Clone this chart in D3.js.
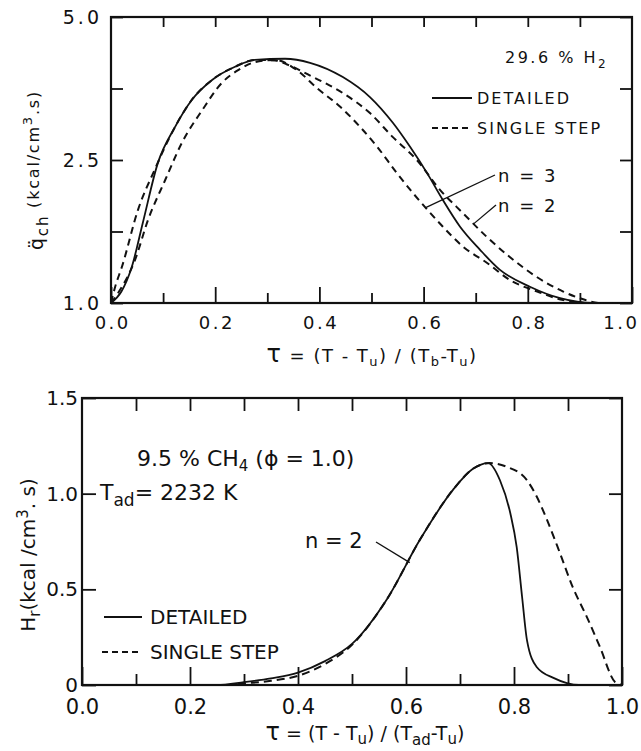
<!doctype html>
<html>
<head>
<meta charset="utf-8">
<style>
  body { margin: 0; background: #fff; }
  svg { display: block; }
  text { fill: #111; font-family: "DejaVu Sans", sans-serif; }
  .axis path { display: none; }
  .axis line { stroke: #111; stroke-width: 1.8; }
</style>
</head>
<body>
<div id="chart"></div>
<script src="https://cdnjs.cloudflare.com/ajax/libs/d3/7.8.5/d3.min.js"></script>
<script>
  // ---- top panel: 29.6 % H2, heat release vs tau ----
  var topDetailedTau = [0, 0.02, 0.040, 0.061, 0.090, 0.123, 0.155, 0.194, 0.238, 0.276, 0.334, 0.382, 0.445, 0.497, 0.541, 0.574, 0.607, 0.637, 0.670, 0.708, 0.746, 0.804, 0.862, 0.925, 1.0]
  var topDetailedQ   = [1.0, 1.12, 1.38, 1.84, 2.47, 3.08, 3.55, 3.90, 4.13, 4.25, 4.27, 4.20, 3.95, 3.60, 3.15, 2.73, 2.36, 2.08, 1.80, 1.56, 1.35, 1.17, 1.05, 1.0, 1.0]

  var topN2Tau = [0, 0.008, 0.021, 0.052, 0.084, 0.123, 0.155, 0.194, 0.238, 0.276, 0.315, 0.338, 0.388, 0.445, 0.497, 0.541, 0.587, 0.631, 0.676, 0.722, 0.766, 0.818, 0.868, 0.900, 0.939, 1.0]
  var topN2Q   = [1.0, 1.17, 1.38, 1.98, 2.40, 3.08, 3.55, 3.90, 4.13, 4.25, 4.24, 4.17, 3.95, 3.67, 3.32, 2.90, 2.50, 2.19, 1.94, 1.69, 1.48, 1.27, 1.12, 1.05, 1.0, 1.0]

  var topN3Tau = [0, 0.013, 0.046, 0.071, 0.104, 0.136, 0.175, 0.213, 0.244, 0.276, 0.315, 0.357, 0.395, 0.440, 0.478, 0.511, 0.549, 0.580, 0.607, 0.637, 0.676, 0.722, 0.766, 0.818, 0.868, 0.914, 1.0]
  var topN3Q   = [1.0, 1.10, 1.45, 1.87, 2.29, 2.80, 3.37, 3.85, 4.07, 4.21, 4.25, 4.07, 3.76, 3.43, 3.08, 2.73, 2.36, 2.15, 1.98, 1.80, 1.59, 1.42, 1.24, 1.12, 1.03, 1.0, 1.0]

  var topYTicks = [1.0, 1.75, 2.5, 3.75, 5.0]
  var topYLabels = ['1.0', '', '2.5', '', '5.0']

  // ---- bottom panel: 9.5 % CH4 ----
  var botDetailedTau = [0, 0.25, 0.30, 0.35, 0.40, 0.45, 0.50, 0.565, 0.626, 0.687, 0.724, 0.752, 0.774, 0.793, 0.805, 0.815, 0.824, 0.842, 0.873, 0.898, 0.92, 1.0]
  var botDetailedH   = [0, 0, 0.015, 0.035, 0.065, 0.125, 0.215, 0.45, 0.76, 1.02, 1.13, 1.16, 1.07, 0.90, 0.72, 0.46, 0.235, 0.094, 0.037, 0.01, 0, 0]

  var botSingleTau = [0, 0.27, 0.30, 0.35, 0.40, 0.45, 0.50, 0.565, 0.626, 0.687, 0.724, 0.755, 0.787, 0.824, 0.842, 0.861, 0.885, 0.909, 0.935, 0.959, 0.987, 1.0]
  var botSingleH   = [0, 0, 0.008, 0.022, 0.048, 0.11, 0.21, 0.45, 0.76, 1.02, 1.13, 1.16, 1.14, 1.07, 0.985, 0.864, 0.69, 0.51, 0.355, 0.20, 0.016, 0]

  var tauMajor = [0, 0.2, 0.4, 0.6, 0.8, 1.0]
  var tauMinor = [0.1, 0.3, 0.5, 0.7, 0.9]
  var tauAll = d3.range(1, 10).map(d => d / 10)
  var botYTicks = [0, 0.5, 1.0, 1.5]

  var svg = d3.select('#chart').append('svg')
    .attr('width', 641)
    .attr('height', 751)

  function zip(xs, ys) { return xs.map((d, i) => [d, ys[i]]) }

  // ================= top panel =================
  var x1 = d3.scaleLinear().domain([0, 1]).range([111, 632])
  // axis as printed: 1.0 / 2.5 / 5.0 equally spaced
  var y1 = d3.scaleLinear().domain([1.0, 2.5, 5.0]).range([303, 160, 17])

  var topG = svg.append('g')

  topG.append('g').attr('class', 'axis').attr('transform', 'translate(0,303)')
    .call(d3.axisBottom(x1).tickValues(tauMajor).tickSize(-16).tickPadding(13)
      .tickFormat(d3.format('.1f')))
    .selectAll('text').attr('font-size', 18).attr('letter-spacing', 2.5)
    .attr('text-anchor', d => d === 1 ? 'end' : 'middle')
    .attr('dx', d => d === 1 ? 7 : 1.2)

  topG.append('g').attr('class', 'axis').attr('transform', 'translate(0,303)')
    .call(d3.axisBottom(x1).tickValues(tauMinor).tickSize(-10).tickFormat(''))

  topG.append('g').attr('class', 'axis').attr('transform', 'translate(0,17)')
    .call(d3.axisTop(x1).tickValues(tauAll).tickSize(-10).tickFormat(''))

  topG.append('g').attr('class', 'axis').attr('transform', 'translate(111,0)')
    .call(d3.axisLeft(y1).tickValues(topYTicks).tickSize(-12).tickPadding(9)
      .tickFormat((d, i) => topYLabels[i]))
    .selectAll('text').attr('font-size', 19).attr('letter-spacing', 3)

  topG.append('g').attr('class', 'axis').attr('transform', 'translate(632,0)')
    .call(d3.axisRight(y1).tickValues(topYTicks).tickSize(-12).tickFormat(''))

  topG.append('rect')
    .attr('x', 111).attr('y', 17).attr('width', 521).attr('height', 286)
    .attr('fill', 'none').attr('stroke', '#111').attr('stroke-width', 2.2)

  var line1 = d3.line().x(d => x1(d[0])).y(d => y1(d[1])).curve(d3.curveMonotoneX)

  topG.append('path').datum(zip(topDetailedTau, topDetailedQ))
    .attr('d', line1).attr('fill', 'none').attr('stroke', '#111').attr('stroke-width', 1.8)
  topG.append('path').datum(zip(topN2Tau, topN2Q))
    .attr('d', line1).attr('fill', 'none').attr('stroke', '#111').attr('stroke-width', 2)
    .attr('stroke-dasharray', '7,5')
  topG.append('path').datum(zip(topN3Tau, topN3Q))
    .attr('d', line1).attr('fill', 'none').attr('stroke', '#111').attr('stroke-width', 2)
    .attr('stroke-dasharray', '7,5')

  // labels
  topG.append('text').attr('x', 505).attr('y', 63).attr('font-size', 16).attr('letter-spacing', 2.5)
    .text('29.6 % H').append('tspan').attr('font-size', 12).attr('dy', 5).text('2')

  topG.append('line').attr('x1', 432).attr('x2', 472).attr('y1', 98).attr('y2', 98)
    .attr('stroke', '#111').attr('stroke-width', 1.8)
  topG.append('text').attr('x', 477).attr('y', 104).attr('font-size', 16).attr('letter-spacing', 2)
    .text('DETAILED')
  topG.append('line').attr('x1', 432).attr('x2', 472).attr('y1', 128).attr('y2', 128)
    .attr('stroke', '#111').attr('stroke-width', 1.8).attr('stroke-dasharray', '6,4')
  topG.append('text').attr('x', 477).attr('y', 134).attr('font-size', 16).attr('letter-spacing', 2)
    .text('SINGLE STEP')

  // n = 3 / n = 2 leaders
  topG.append('line').attr('x1', x1(0.604)).attr('y1', y1(2.0)).attr('x2', 495).attr('y2', 175)
    .attr('stroke', '#111').attr('stroke-width', 1.3)
  topG.append('text').attr('x', 498).attr('y', 182).attr('font-size', 18).attr('letter-spacing', 2)
    .text('n = 3')
  topG.append('line').attr('x1', x1(0.696)).attr('y1', y1(1.83)).attr('x2', 496).attr('y2', 205)
    .attr('stroke', '#111').attr('stroke-width', 1.3)
  topG.append('text').attr('x', 498).attr('y', 212).attr('font-size', 18).attr('letter-spacing', 2)
    .text('n = 2')

  // x title
  var xt1 = topG.append('text').attr('x', 372).attr('y', 362).attr('text-anchor', 'middle')
    .attr('font-size', 18).attr('letter-spacing', 1.5)
  xt1.append('tspan').attr('font-size', 24).text('τ')
  xt1.append('tspan').text(' = (T - T')
  xt1.append('tspan').attr('font-size', 13).attr('dy', 4).text('u')
  xt1.append('tspan').attr('dy', -4).text(') / (T')
  xt1.append('tspan').attr('font-size', 13).attr('dy', 4).text('b')
  xt1.append('tspan').attr('dy', -4).text('-T')
  xt1.append('tspan').attr('font-size', 13).attr('dy', 4).text('u')
  xt1.append('tspan').attr('dy', -4).text(')')

  // y title
  var yt1 = topG.append('text').attr('transform', 'translate(43,170) rotate(-90)')
    .attr('text-anchor', 'middle').attr('font-size', 19).attr('letter-spacing', 1.8)
  yt1.append('tspan').text('q\u0308')
  yt1.append('tspan').attr('font-size', 15).attr('dy', 5).text('ch')
  yt1.append('tspan').attr('dy', -9).attr('font-size', 16).text(' (kcal/cm')
  yt1.append('tspan').attr('font-size', 13).attr('dy', -7).text('3')
  yt1.append('tspan').attr('font-size', 16).attr('dy', 7).text('.s)')

  // ================= bottom panel =================
  var x2 = d3.scaleLinear().domain([0, 1]).range([82, 622])
  var y2 = d3.scaleLinear().domain([0, 1.5]).range([685, 398])

  var botG = svg.append('g')

  botG.append('g').attr('class', 'axis').attr('transform', 'translate(0,685)')
    .call(d3.axisBottom(x2).tickValues(tauMajor).tickSize(-18).tickPadding(14)
      .tickFormat(d3.format('.1f')))
    .selectAll('text').attr('font-size', 21)
  botG.append('g').attr('class', 'axis').attr('transform', 'translate(0,685)')
    .call(d3.axisBottom(x2).tickValues(tauMinor).tickSize(-11).tickFormat(''))
  botG.append('g').attr('class', 'axis').attr('transform', 'translate(0,398)')
    .call(d3.axisTop(x2).tickValues(tauAll).tickSize(-13).tickFormat(''))
  botG.append('g').attr('class', 'axis').attr('transform', 'translate(82,0)')
    .call(d3.axisLeft(y2).tickValues(botYTicks).tickSize(-14).tickPadding(4)
      .tickFormat(d => d === 0 ? '0' : d3.format('.1f')(d)))
    .selectAll('text').attr('font-size', 20)
  botG.append('g').attr('class', 'axis').attr('transform', 'translate(622,0)')
    .call(d3.axisRight(y2).tickValues(botYTicks).tickSize(-13).tickFormat(''))

  botG.append('rect')
    .attr('x', 82).attr('y', 398).attr('width', 540).attr('height', 287)
    .attr('fill', 'none').attr('stroke', '#111').attr('stroke-width', 2.2)

  var line2 = d3.line().x(d => x2(d[0])).y(d => y2(d[1])).curve(d3.curveMonotoneX)

  botG.append('path').datum(zip(botSingleTau, botSingleH))
    .attr('d', line2).attr('fill', 'none').attr('stroke', '#111').attr('stroke-width', 2)
    .attr('stroke-dasharray', '8,5')
  botG.append('path').datum(zip(botDetailedTau, botDetailedH))
    .attr('d', line2).attr('fill', 'none').attr('stroke', '#111').attr('stroke-width', 1.8)

  var t1 = botG.append('text').attr('x', 137).attr('y', 466).attr('font-size', 22)
  t1.append('tspan').text('9.5 % CH')
  t1.append('tspan').attr('font-size', 15).attr('dy', 5).text('4')
  t1.append('tspan').attr('dy', -5).text(' (ϕ = 1.0)')

  var t2 = botG.append('text').attr('x', 100).attr('y', 500).attr('font-size', 22)
  t2.append('tspan').text('T')
  t2.append('tspan').attr('font-size', 17).attr('dy', 6).text('ad')
  t2.append('tspan').attr('dy', -6).text('= 2232 K')

  botG.append('line').attr('x1', 104).attr('x2', 142).attr('y1', 617).attr('y2', 617)
    .attr('stroke', '#111').attr('stroke-width', 1.8)
  botG.append('text').attr('x', 150).attr('y', 624).attr('font-size', 20).text('DETAILED')
  botG.append('line').attr('x1', 102).attr('x2', 142).attr('y1', 652).attr('y2', 652)
    .attr('stroke', '#111').attr('stroke-width', 1.8).attr('stroke-dasharray', '6,4')
  botG.append('text').attr('x', 150).attr('y', 659).attr('font-size', 20).text('SINGLE STEP')

  botG.append('line').attr('x1', 376).attr('y1', 542).attr('x2', x2(0.607)).attr('y2', y2(0.64))
    .attr('stroke', '#111').attr('stroke-width', 1.4)
  botG.append('text').attr('x', 305).attr('y', 548).attr('font-size', 21).text('n = 2')

  var xt2 = botG.append('text').attr('x', 365).attr('y', 740).attr('text-anchor', 'middle')
    .attr('font-size', 19)
  xt2.append('tspan').attr('font-size', 24).text('τ')
  xt2.append('tspan').text(' = (T - T')
  xt2.append('tspan').attr('font-size', 15).attr('dy', 4).text('u')
  xt2.append('tspan').attr('dy', -4).text(') / (T')
  xt2.append('tspan').attr('font-size', 15).attr('dy', 5).text('ad')
  xt2.append('tspan').attr('dy', -5).text('-T')
  xt2.append('tspan').attr('font-size', 15).attr('dy', 4).text('u')
  xt2.append('tspan').attr('dy', -4).text(')')

  var yt2 = botG.append('text').attr('transform', 'translate(35,555) rotate(-90)')
    .attr('text-anchor', 'middle').attr('font-size', 20)
  yt2.append('tspan').text('H')
  yt2.append('tspan').attr('font-size', 15).attr('dy', 5).text('r')
  yt2.append('tspan').attr('dy', -5).text('(kcal /cm')
  yt2.append('tspan').attr('font-size', 15).attr('dy', -7).text('3')
  yt2.append('tspan').attr('dy', 7).text('. s)')
</script>
</body>
</html>
